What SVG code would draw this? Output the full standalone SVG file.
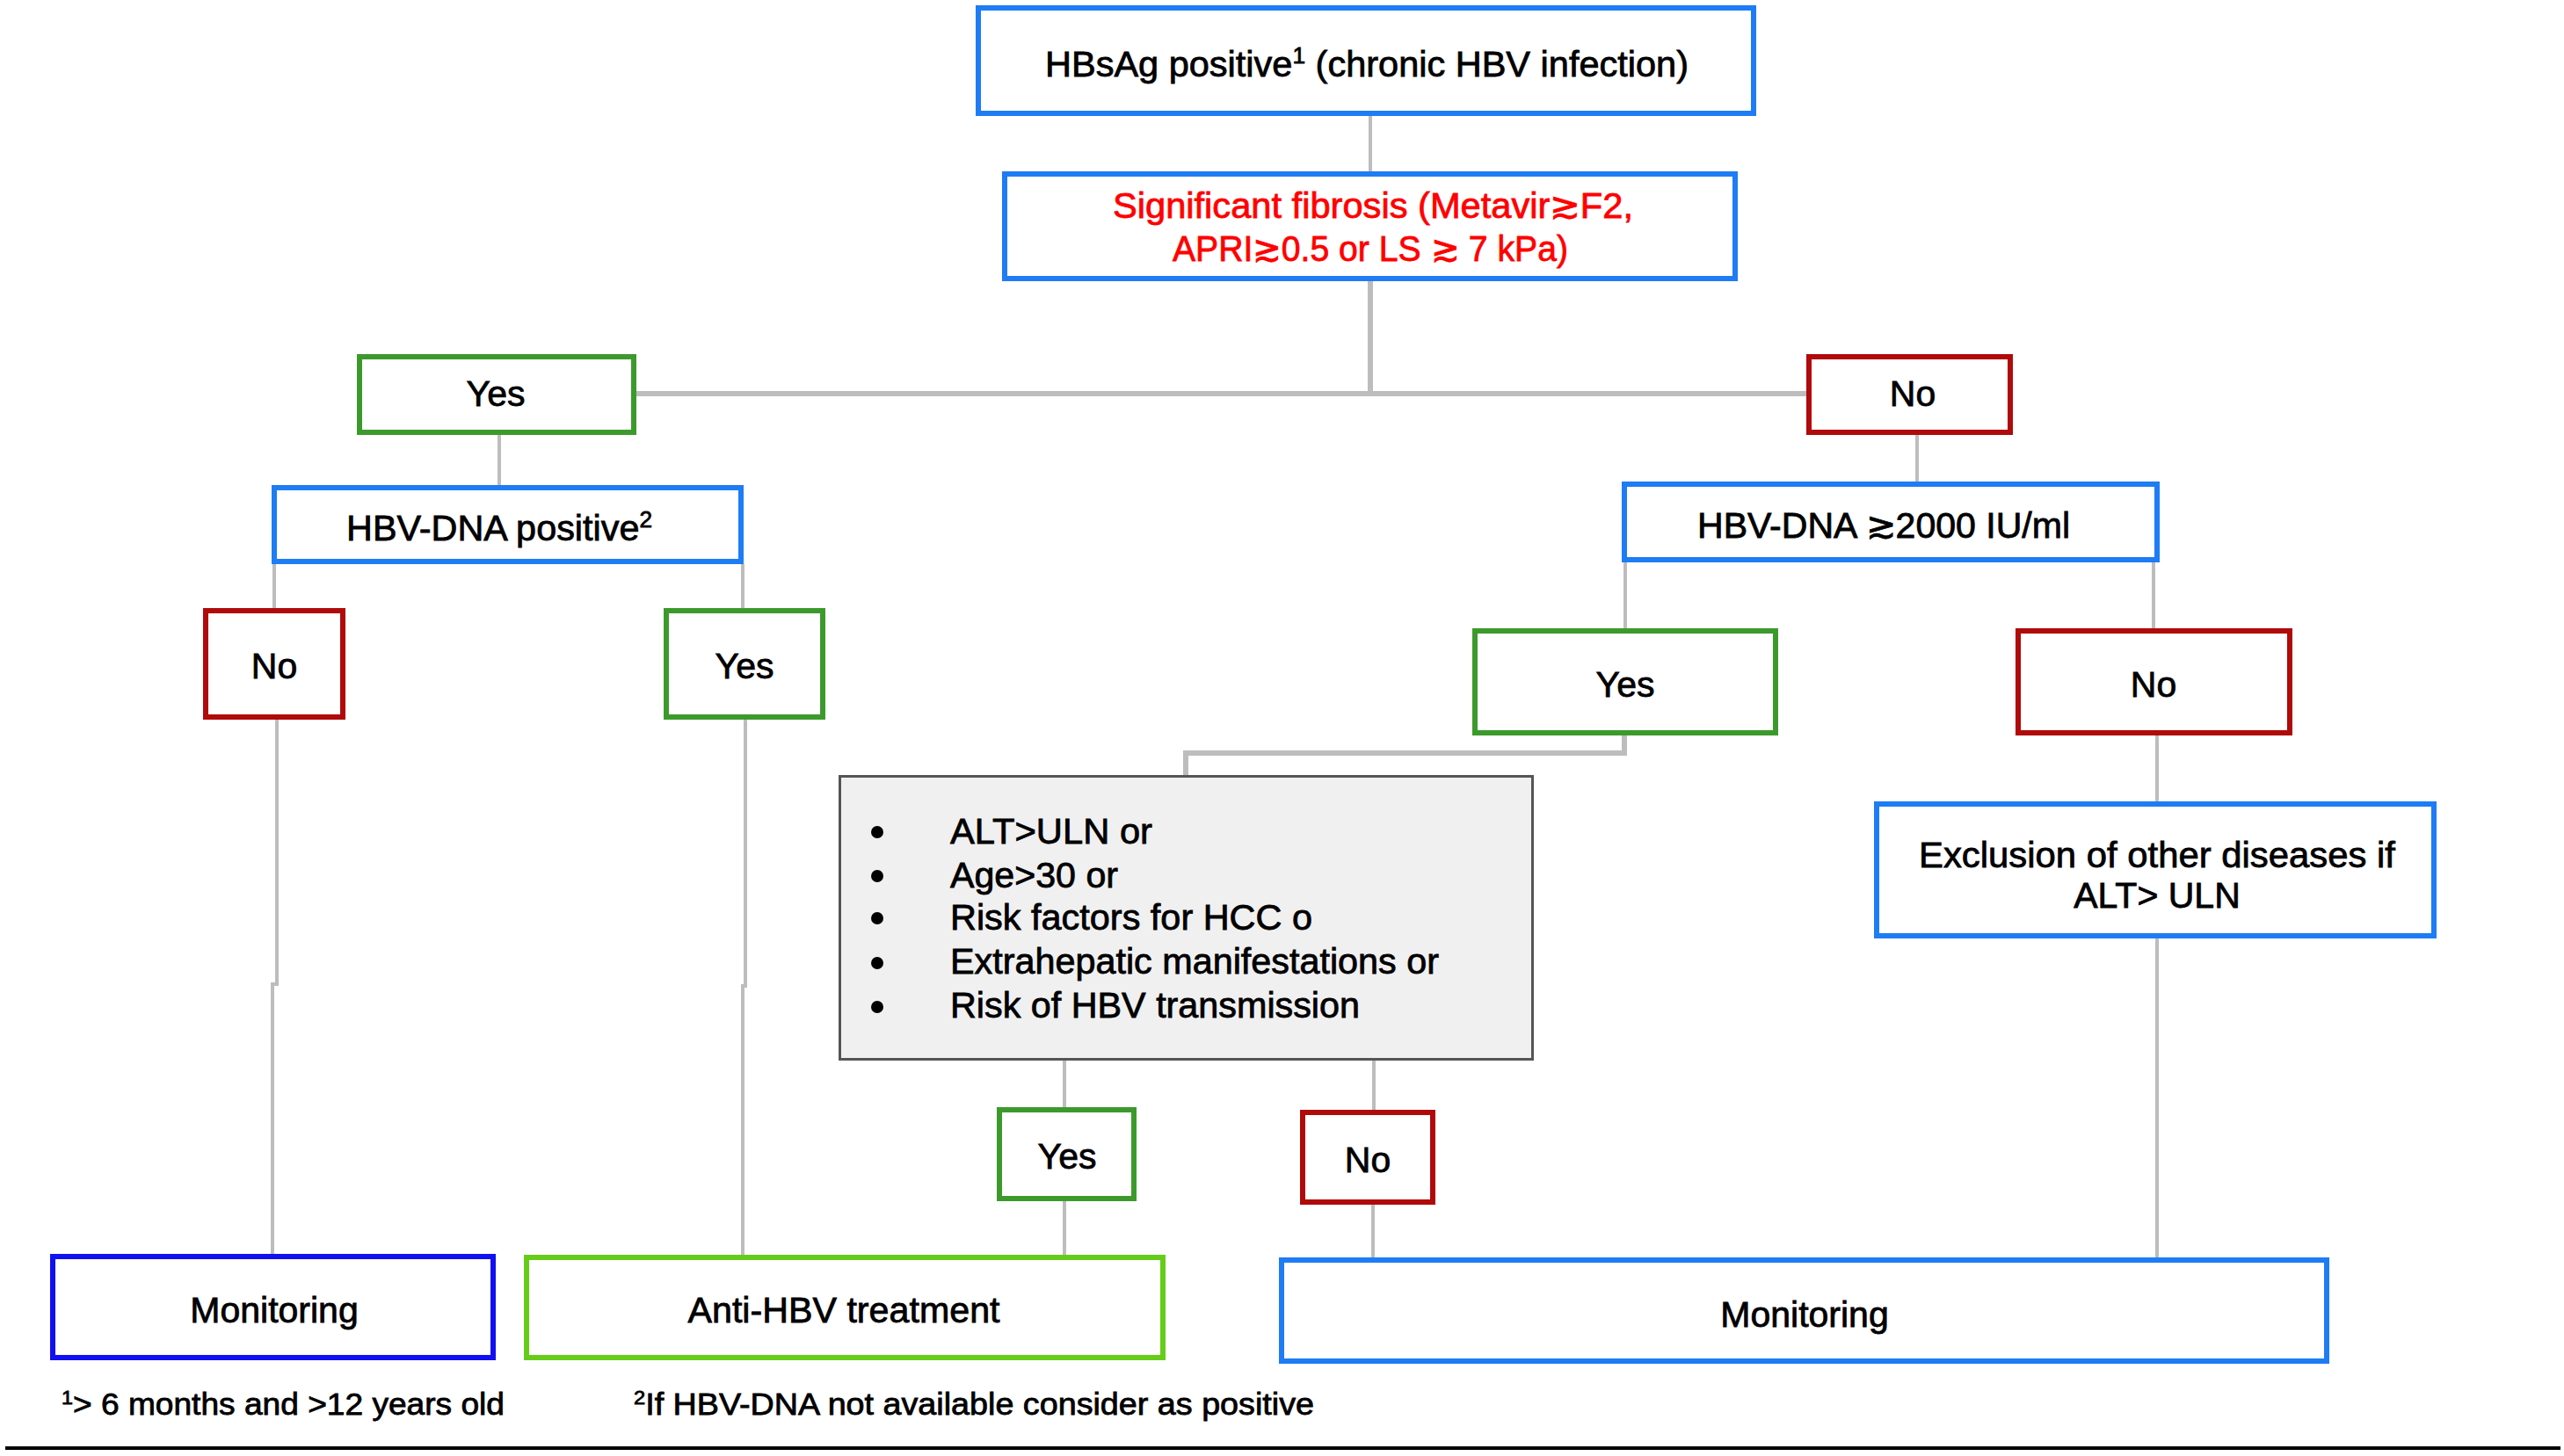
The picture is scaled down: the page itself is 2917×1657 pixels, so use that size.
<svg xmlns="http://www.w3.org/2000/svg" width="2917" height="1657" viewBox="0 0 2917 1657">
<style>
  text { font-family: "Liberation Sans", Arial, sans-serif; font-size: 41px; fill: #000; stroke: #000; stroke-width: 0.8; }
  .c { text-anchor: middle; }
  .red { fill: #FF0000; stroke: #FF0000; }
  .foot { font-size: 35px; }
  .box { fill: #fff; stroke-width: 6; }
  .blue { stroke: #1E7CF4; }
  .dblue { stroke: #1010F0; }
  .green { stroke: #3C9A2C; }
  .lgreen { stroke: #66CC1A; }
  .dred { stroke: #B00A0A; }
  .gray { fill: #F0F0F0; stroke: #555555; stroke-width: 3; }
  .ln { fill: none; stroke: #BDBDBD; stroke-width: 4; }
  .thick { stroke-width: 6; }
</style>
<rect x="0" y="0" width="2917" height="1657" fill="#fff"/>

<g id="connectors">
  <path class="ln" d="M1559 132 V195"/>
  <path class="ln thick" d="M1559 320 V448"/>
  <path class="ln thick" d="M724 448 H2055"/>
  <path class="ln" d="M568 495 V552"/>
  <path class="ln" d="M2181 495 V548"/>
  <path class="ln" d="M312 642 V692"/>
  <path class="ln" d="M845 642 V692"/>
  <path class="ln" d="M315 819 V1120 H310 V1427"/>
  <path class="ln" d="M848 819 V1122 H845 V1428"/>
  <path class="ln" d="M1849 640 V715"/>
  <path class="ln" d="M2450 640 V715"/>
  <path class="ln thick" d="M1848 837 V857 H1349 V883"/>
  <path class="ln" d="M2454 837 V912"/>
  <path class="ln" d="M2454 1068 V1431"/>
  <path class="ln" d="M1211 1207 V1260"/>
  <path class="ln" d="M1563 1207 V1263"/>
  <path class="ln" d="M1211 1367 V1428"/>
  <path class="ln" d="M1562 1371 V1431"/>
</g>

<g id="n-hbsag">
  <rect class="box blue" x="1113" y="9" width="882" height="120"/>
  <text class="c" x="1555" y="87" textLength="732" lengthAdjust="spacingAndGlyphs">HBsAg positive<tspan font-size="26" baseline-shift="super">1</tspan> (chronic HBV infection)</text>
</g>

<g id="n-fibrosis">
  <rect class="box blue" x="1143" y="198" width="831" height="119"/>
  <text class="c red" x="1562" y="248" textLength="592" lengthAdjust="spacingAndGlyphs">Significant fibrosis (Metavir≳F2,</text>
  <text class="c red" x="1559" y="297" textLength="450" lengthAdjust="spacingAndGlyphs">APRI≳0.5 or LS ≳ 7 kPa)</text>
</g>

<g id="n-yes1">
  <rect class="box green" x="409" y="406" width="312" height="86"/>
  <text class="c" x="564" y="462">Yes</text>
</g>

<g id="n-no1">
  <rect class="box dred" x="2058" y="406" width="229" height="86"/>
  <text class="c" x="2176" y="462">No</text>
</g>

<g id="n-hbvpos">
  <rect class="box blue" x="312" y="555" width="531" height="84"/>
  <text class="c" x="568" y="615" textLength="348" lengthAdjust="spacingAndGlyphs">HBV-DNA positive<tspan font-size="26" baseline-shift="super">2</tspan></text>
</g>

<g id="n-hbv2000">
  <rect class="box blue" x="1848" y="551" width="606" height="86"/>
  <text class="c" x="2143" y="612" textLength="424" lengthAdjust="spacingAndGlyphs">HBV-DNA ≳2000 IU/ml</text>
</g>

<g id="n-no2">
  <rect class="box dred" x="234" y="695" width="156" height="121"/>
  <text class="c" x="312" y="772">No</text>
</g>

<g id="n-yes2">
  <rect class="box green" x="758" y="695" width="178" height="121"/>
  <text class="c" x="847" y="772">Yes</text>
</g>

<g id="n-yes3">
  <rect class="box green" x="1678" y="718" width="342" height="116"/>
  <text class="c" x="1849" y="793">Yes</text>
</g>

<g id="n-no3">
  <rect class="box dred" x="2296" y="718" width="309" height="116"/>
  <text class="c" x="2450" y="793">No</text>
</g>

<g id="n-criteria">
  <rect class="gray" x="955.5" y="883.5" width="788" height="322"/>
  <g>
    <circle cx="998" cy="947" r="7"/>
    <circle cx="998" cy="997" r="7"/>
    <circle cx="998" cy="1045" r="7"/>
    <circle cx="998" cy="1096" r="7"/>
    <circle cx="998" cy="1146" r="7"/>
  </g>
  <text x="1081" y="960" textLength="230" lengthAdjust="spacingAndGlyphs">ALT&gt;ULN or</text>
  <text x="1081" y="1010" textLength="191" lengthAdjust="spacingAndGlyphs">Age&gt;30 or</text>
  <text x="1081" y="1058" textLength="412" lengthAdjust="spacingAndGlyphs">Risk factors for HCC o</text>
  <text x="1081" y="1108" textLength="556" lengthAdjust="spacingAndGlyphs">Extrahepatic manifestations or</text>
  <text x="1081" y="1158" textLength="466" lengthAdjust="spacingAndGlyphs">Risk of HBV transmission</text>
</g>

<g id="n-exclusion">
  <rect class="box blue" x="2135" y="915" width="634" height="150"/>
  <text class="c" x="2454" y="987" textLength="542" lengthAdjust="spacingAndGlyphs">Exclusion of other diseases if</text>
  <text class="c" x="2454" y="1033">ALT&gt; ULN</text>
</g>

<g id="n-yes4">
  <rect class="box green" x="1137" y="1263" width="153" height="101"/>
  <text class="c" x="1214" y="1330">Yes</text>
</g>

<g id="n-no4">
  <rect class="box dred" x="1482" y="1266" width="148" height="102"/>
  <text class="c" x="1556" y="1334">No</text>
</g>

<g id="n-monitoring1">
  <rect class="box dblue" x="60" y="1430" width="501" height="115"/>
  <text class="c" x="312" y="1505">Monitoring</text>
</g>

<g id="n-treatment">
  <rect class="box lgreen" x="599" y="1431" width="724" height="114"/>
  <text class="c" x="960" y="1505" textLength="355" lengthAdjust="spacingAndGlyphs">Anti-HBV treatment</text>
</g>

<g id="n-monitoring2">
  <rect class="box blue" x="1458" y="1434" width="1189" height="115"/>
  <text class="c" x="2053" y="1510">Monitoring</text>
</g>

<g id="footnotes">
  <text class="foot" x="70" y="1610" textLength="504" lengthAdjust="spacingAndGlyphs"><tspan font-size="22" baseline-shift="super">1</tspan>&gt; 6 months and &gt;12 years old</text>
  <text class="foot" x="721" y="1610" textLength="774" lengthAdjust="spacingAndGlyphs"><tspan font-size="22" baseline-shift="super">2</tspan>If HBV-DNA not available consider as positive</text>
  <path d="M6 1648 H2913" stroke="#000" stroke-width="4"/>
</g>
</svg>
